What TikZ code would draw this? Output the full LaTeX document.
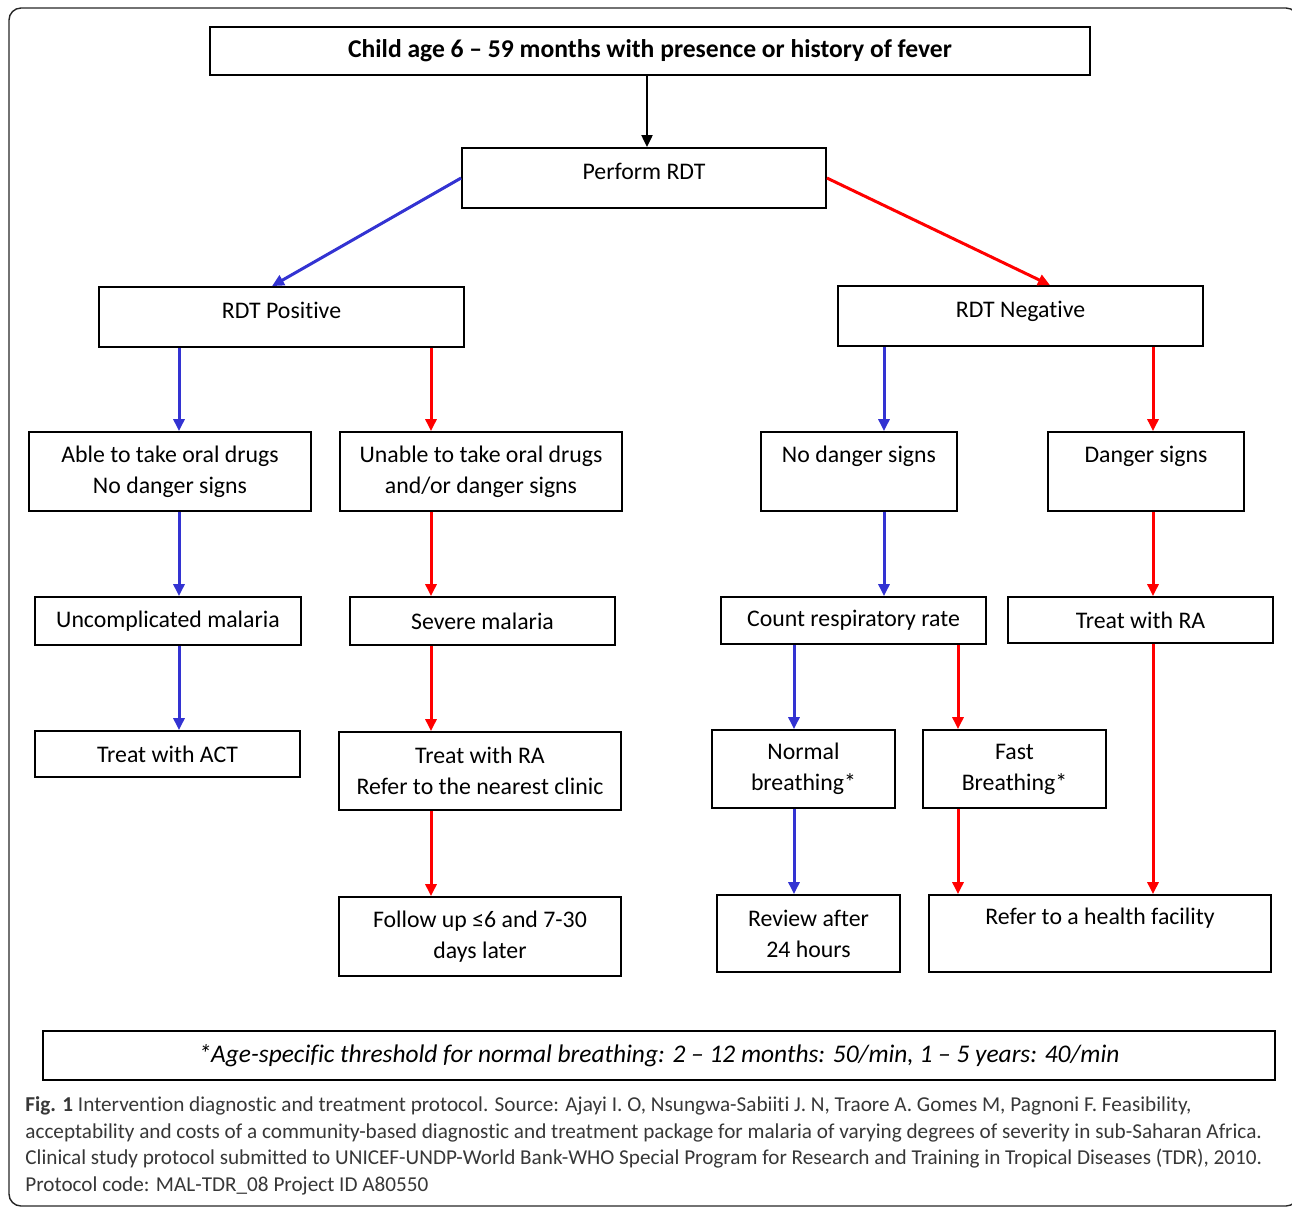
\documentclass[tikz,border=0pt]{standalone}
\usepackage{fontspec}
\setmainfont{Carlito}[Ligatures=NoCommon]
\usetikzlibrary{arrows.meta}
\definecolor{arrblue}{RGB}{51,51,210}
\definecolor{arrred}{RGB}{255,0,0}
\definecolor{capgray}{RGB}{55,55,55}

\begin{document}
\begin{tikzpicture}[x=0.5pt, y=-0.5pt,
	box/.style={draw=black, line width=0.9pt, align=center, inner sep=0pt,
		font=\fontsize{11.9}{15.5}\selectfont},
	uptext/.style={text depth=#1},
	blarr/.style={line width=1.5pt, draw=arrblue, -{Triangle[length=6pt,width=5.5pt]}},
	rdarr/.style={line width=1.5pt, draw=arrred, -{Triangle[length=6pt,width=5.5pt]}},
	kharr/.style={line width=1pt, draw=black, -{Triangle[length=6pt,width=5.5pt]}}]
		%%%%% START %%%%%
		\useasboundingbox (0,0) rectangle (1292,1207);
		\draw[line width=0.7pt, rounded corners=6pt, draw=black!85] (9,8) rectangle (1298,1206);
		
		\node[box, minimum width=440pt, minimum height=24pt, font=\fontsize{12.8}{14}\selectfont\bfseries] (child) at (650,51) {Child age 6 -- 59 months with presence or history of fever};
		\node[box, minimum width=182pt, minimum height=30pt, uptext=7pt] (rdt) at (644,178) {Perform RDT};
		
		\node[box, minimum width=182.5pt, minimum height=30pt, uptext=7pt] (pos) at (281.5,317) {RDT Positive};
		\node[box, minimum width=182.5pt, minimum height=30pt, uptext=7pt] (neg) at (1020.5,316) {RDT Negative};
		
		\node[box, minimum width=141pt, minimum height=39.5pt] (able) at (170,471.5) {Able to take oral drugs\\No danger signs};
		\node[box, minimum width=141pt, minimum height=39.5pt] (unable) at (481,471.5) {Unable to take oral drugs\\and/or danger signs};
		\node[box, minimum width=98pt, minimum height=39.5pt, uptext=17pt] (nodng) at (859,471.5) {No danger signs};
		\node[box, minimum width=98pt, minimum height=39.5pt, uptext=17pt] (dng) at (1146,471.5) {Danger signs};
		
		\node[box, minimum width=133pt, minimum height=24pt] (uncmp) at (168,621) {Uncomplicated malaria};
		\node[box, minimum width=132.5pt, minimum height=24pt] (sev) at (482.5,621) {Severe malaria};
		\node[box, minimum width=132.5pt, minimum height=23.5pt] (count) at (853.5,620.5) {Count respiratory rate};
		\node[box, minimum width=132.5pt, minimum height=23pt] (trra) at (1140.5,620) {Treat with RA};
		
		\node[box, minimum width=132.5pt, minimum height=23pt] (act) at (167.5,754) {Treat with ACT};
		\node[box, minimum width=141pt, minimum height=39pt] (clinic) at (480,771) {Treat with RA\\Refer to the nearest clinic};
		\node[box, minimum width=91.5pt, minimum height=39pt] (normal) at (803.5,769) {Normal\\breathing*};
		\node[box, minimum width=91.5pt, minimum height=39pt] (fast) at (1014.5,769) {Fast\\Breathing*};
		
		\node[box, minimum width=141pt, minimum height=39.5pt] (follow) at (480,936.5) {Follow up \symbol{"2264}6 and 7-30\\days later};
		\node[box, minimum width=91.5pt, minimum height=38.5pt] (review) at (808.5,933.5) {Review after\\24 hours};
		\node[box, minimum width=171pt, minimum height=38.5pt, uptext=17pt] (facil) at (1100,933.5) {Refer to a health facility};
		
		\node[box, minimum width=616pt, minimum height=24.5pt, font=\fontsize{12.7}{14}\selectfont\itshape] (note) at (659,1055.5) {*Age-specific threshold for normal breathing: 2 -- 12 months: 50/min, 1 -- 5 years: 40/min};
		
		\draw[kharr] (child.south -| 647,0) -- (rdt.north -| 647,0);
		\draw[blarr] (rdt.west) -- (pos.north -| 272,0);
		\draw[rdarr] (rdt.east) -- (neg.north -| 1050,0);
		
		\draw[blarr] (pos.south -| 179,0) -- (able.north -| 179,0);
		\draw[rdarr] (pos.south -| 431,0) -- (unable.north -| 431,0);
		\draw[blarr] (neg.south -| 884,0) -- (nodng.north -| 884,0);
		\draw[rdarr] (neg.south -| 1153,0) -- (dng.north -| 1153,0);
		
		\draw[blarr] (able.south -| 179,0) -- (uncmp.north -| 179,0);
		\draw[rdarr] (unable.south -| 431,0) -- (sev.north -| 431,0);
		\draw[blarr] (nodng.south -| 884,0) -- (count.north -| 884,0);
		\draw[rdarr] (dng.south -| 1153,0) -- (trra.north -| 1153,0);
		
		\draw[blarr] (uncmp.south -| 179,0) -- (act.north -| 179,0);
		\draw[rdarr] (sev.south -| 431,0) -- (clinic.north -| 431,0);
		\draw[blarr] (count.south -| 794,0) -- (normal.north -| 794,0);
		\draw[rdarr] (count.south -| 958,0) -- (fast.north -| 958,0);
		\draw[rdarr] (trra.south -| 1153,0) -- (facil.north -| 1153,0);
		
		\draw[rdarr] (clinic.south -| 431,0) -- (follow.north -| 431,0);
		\draw[blarr] (normal.south -| 794,0) -- (review.north -| 794,0);
		\draw[rdarr] (fast.south -| 958,0) -- (facil.north -| 958,0);
		
		\node[anchor=west, align=left, inner sep=0pt, text=capgray, font=\fontsize{10.6}{13.3}\selectfont] (caption) at (25,1146) {\textbf{Fig. 1} Intervention diagnostic and treatment protocol. Source: Ajayi I. O, Nsungwa-Sabiiti J. N, Traore A. Gomes M, Pagnoni F. Feasibility,\\acceptability and costs of a community-based diagnostic and treatment package for malaria of varying degrees of severity in sub-Saharan Africa.\\Clinical study protocol submitted to UNICEF-UNDP-World Bank-WHO Special Program for Research and Training in Tropical Diseases (TDR), 2010.\\Protocol code: MAL-TDR\_08 Project ID A80550};
		%%%%% END %%%%%
	\end{tikzpicture}
\end{document}
